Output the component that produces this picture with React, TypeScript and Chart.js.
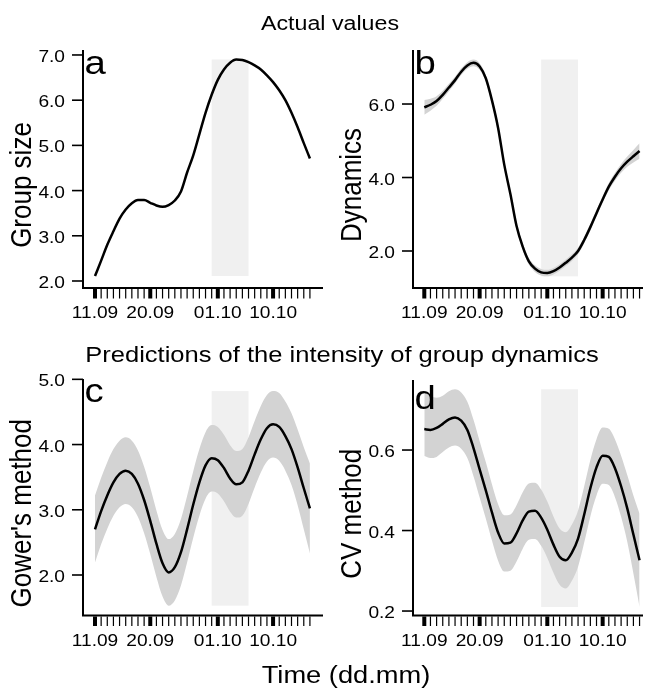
import React, { useEffect, useRef } from "react";
import { Chart, registerables } from "chart.js";

Chart.register(...registerables);

const W = 648;
const H = 688;
const FONT = '"Liberation Sans", Arial, Helvetica, sans-serif';
const SX = 1.16;

// ---------- data ----------
const days = [0, 1, 2, 3, 4, 5, 6, 7, 8, 9, 10, 11, 12, 13, 14, 15, 16, 17, 18, 19, 20, 21, 22, 23, 24, 25, 26, 27, 28, 29, 30, 31, 32, 33, 34, 35];
const dateTickDays = [0, 9, 20, 29];
const dateTickLabels = ["11.09", "20.09", "01.10", "10.10"];
const shadeStartDay = 19;
const shadeEndDay = 25;

const groupSizeFit = [2.11, 2.45, 2.80, 3.10, 3.38, 3.58, 3.72, 3.79, 3.79, 3.73, 3.67, 3.64, 3.68, 3.78, 3.98, 4.40, 4.78, 5.25, 5.72, 6.12, 6.45, 6.68, 6.83, 6.90, 6.89, 6.84, 6.77, 6.68, 6.55, 6.40, 6.22, 6.00, 5.72, 5.40, 5.05, 4.71];

const dynamicsFit = [5.91, 5.98, 6.08, 6.25, 6.45, 6.65, 6.88, 7.05, 7.12, 7.02, 6.70, 6.10, 5.35, 4.35, 3.55, 2.68, 2.12, 1.72, 1.52, 1.42, 1.40, 1.45, 1.55, 1.68, 1.82, 2.00, 2.30, 2.65, 3.03, 3.40, 3.75, 4.02, 4.25, 4.43, 4.58, 4.72];
const dynamicsUpper = [6.11, 6.14, 6.21, 6.36, 6.55, 6.74, 6.97, 7.14, 7.21, 7.11, 6.79, 6.19, 5.44, 4.44, 3.64, 2.77, 2.21, 1.81, 1.61, 1.51, 1.49, 1.54, 1.64, 1.77, 1.91, 2.09, 2.39, 2.74, 3.12, 3.49, 3.85, 4.13, 4.37, 4.57, 4.75, 4.93];
const dynamicsLower = [5.71, 5.82, 5.95, 6.14, 6.35, 6.56, 6.79, 6.96, 7.03, 6.93, 6.61, 6.01, 5.26, 4.26, 3.46, 2.59, 2.03, 1.63, 1.43, 1.33, 1.31, 1.36, 1.46, 1.59, 1.73, 1.91, 2.21, 2.56, 2.94, 3.31, 3.65, 3.91, 4.13, 4.29, 4.41, 4.51];

const gowerFit = [2.70, 2.98, 3.22, 3.42, 3.55, 3.60, 3.55, 3.40, 3.15, 2.83, 2.48, 2.18, 2.04, 2.12, 2.35, 2.70, 3.08, 3.42, 3.68, 3.79, 3.76, 3.64, 3.48, 3.39, 3.42, 3.60, 3.85, 4.08, 4.25, 4.31, 4.27, 4.13, 3.93, 3.65, 3.33, 3.02];
const gowerUpper = [3.22, 3.49, 3.73, 3.93, 4.06, 4.11, 4.06, 3.91, 3.66, 3.34, 2.99, 2.69, 2.55, 2.63, 2.86, 3.21, 3.59, 3.93, 4.19, 4.30, 4.27, 4.15, 3.99, 3.90, 3.93, 4.11, 4.36, 4.59, 4.76, 4.82, 4.79, 4.66, 4.48, 4.23, 3.96, 3.71];
const gowerLower = [2.19, 2.47, 2.71, 2.91, 3.04, 3.09, 3.04, 2.89, 2.64, 2.32, 1.97, 1.67, 1.53, 1.61, 1.84, 2.19, 2.57, 2.91, 3.17, 3.28, 3.25, 3.13, 2.97, 2.88, 2.91, 3.09, 3.34, 3.57, 3.74, 3.80, 3.75, 3.60, 3.38, 3.07, 2.70, 2.33];

const cvFit = [0.652, 0.650, 0.655, 0.665, 0.676, 0.681, 0.673, 0.650, 0.605, 0.552, 0.500, 0.445, 0.395, 0.368, 0.370, 0.393, 0.425, 0.447, 0.449, 0.432, 0.402, 0.365, 0.335, 0.326, 0.345, 0.380, 0.440, 0.505, 0.557, 0.586, 0.583, 0.555, 0.510, 0.455, 0.390, 0.326];
const cvUpper = [0.745, 0.735, 0.730, 0.735, 0.746, 0.751, 0.743, 0.720, 0.675, 0.622, 0.570, 0.515, 0.465, 0.438, 0.440, 0.463, 0.495, 0.517, 0.519, 0.502, 0.472, 0.435, 0.405, 0.396, 0.415, 0.450, 0.510, 0.575, 0.627, 0.656, 0.653, 0.627, 0.586, 0.538, 0.487, 0.442];
const cvLower = [0.585, 0.580, 0.583, 0.595, 0.606, 0.611, 0.603, 0.580, 0.535, 0.482, 0.430, 0.375, 0.325, 0.298, 0.300, 0.323, 0.355, 0.377, 0.379, 0.362, 0.332, 0.295, 0.265, 0.256, 0.275, 0.310, 0.370, 0.435, 0.487, 0.516, 0.513, 0.483, 0.434, 0.372, 0.293, 0.210];

const groupSizeTicks = [2, 3, 4, 5, 6, 7];
const dynamicsTicks = [2, 4, 6];
const gowerTicks = [2, 3, 4, 5];
const cvTicks = [0.2, 0.4, 0.6];

// ---------- layout / style ----------
type Txt = { text: string; x: number; y: number; size: number };
type Panel = {
  letter: string;
  yTitle: string;
  fit: number[];
  upper?: number[];
  lower?: number[];
  yTicks: number[];
  yMin: number;
  yMax: number;
  xMin: number;
  xMax: number;
  area: { left: number; top: number; right: number; bottom: number };
  letterDy: number;
  texts: Txt[];
};

const panels: Panel[] = [
  {
    letter: "a", yTitle: "Group size", fit: groupSizeFit, yTicks: groupSizeTicks,
    yMin: 1.845, yMax: 7.11, xMin: -1.954, xMax: 37.13,
    area: { left: 83, top: 50, right: 323, bottom: 288 }, letterDy: 24,
    texts: [{ text: "Actual values", x: 330, y: 30, size: 20 }],
  },
  {
    letter: "b", yTitle: "Dynamics", fit: dynamicsFit, upper: dynamicsUpper, lower: dynamicsLower, yTicks: dynamicsTicks,
    yMin: 0.993, yMax: 7.47, xMin: -1.837, xMax: 35.56,
    area: { left: 413, top: 50, right: 643, bottom: 288 }, letterDy: 23.5,
    texts: [],
  },
  {
    letter: "c", yTitle: "Gower's method", fit: gowerFit, upper: gowerUpper, lower: gowerLower, yTicks: gowerTicks,
    yMin: 1.379, yMax: 5.005, xMin: -1.954, xMax: 37.13,
    area: { left: 83, top: 379, right: 323, bottom: 615.5 }, letterDy: 23,
    texts: [
      { text: "Predictions of the intensity of group dynamics", x: 342, y: 362, size: 22 },
      { text: "Time (dd.mm)", x: 346, y: 683, size: 23.5 },
    ],
  },
  {
    letter: "d", yTitle: "CV method", fit: cvFit, upper: cvUpper, lower: cvLower, yTicks: cvTicks,
    yMin: 0.1889, yMax: 0.774, xMin: -1.837, xMax: 35.56,
    area: { left: 413, top: 380, right: 643, bottom: 615.5 }, letterDy: 29,
    texts: [],
  },
];

function stretchedText(ctx: CanvasRenderingContext2D, text: string, x: number, y: number, size: number, align: CanvasTextAlign) {
  ctx.save();
  ctx.translate(x, y);
  ctx.scale(SX, 1);
  ctx.font = `${size}px ${FONT}`;
  ctx.textAlign = align;
  ctx.textBaseline = "alphabetic";
  ctx.fillText(text, 0, 0);
  ctx.restore();
}

function makeDecor(p: Panel) {
  return {
    id: "decor_" + p.letter,
    beforeDatasetsDraw(chart: any) {
      const { ctx, scales } = chart;
      const xs = scales.x;
      const ys = scales.y;
      const lo = Math.min(...(p.lower ?? p.fit));
      const hi = Math.max(...(p.upper ?? p.fit));
      const x0 = xs.getPixelForValue(shadeStartDay);
      const x1 = xs.getPixelForValue(shadeEndDay);
      const y0 = ys.getPixelForValue(hi);
      const y1 = ys.getPixelForValue(lo);
      ctx.save();
      ctx.fillStyle = "#f0f0f0";
      ctx.fillRect(x0, y0, x1 - x0, y1 - y0);
      ctx.restore();
    },
    afterDraw(chart: any) {
      const { ctx, scales, chartArea } = chart;
      const xs = scales.x;
      const ys = scales.y;
      const { left, top, right, bottom } = chartArea;
      ctx.save();
      ctx.fillStyle = "#000";
      ctx.strokeStyle = "#000";
      // L-shaped frame
      ctx.lineWidth = 2;
      ctx.beginPath();
      ctx.moveTo(left, top);
      ctx.lineTo(left, bottom);
      ctx.lineTo(right, bottom);
      ctx.stroke();
      // y ticks + labels
      ctx.lineWidth = 1.6;
      for (const t of p.yTicks) {
        const py = ys.getPixelForValue(t);
        ctx.beginPath();
        ctx.moveTo(left - 11, py);
        ctx.lineTo(left, py);
        ctx.stroke();
        stretchedText(ctx, t.toFixed(1), left - 18, py + 7, 16.5, "right");
      }
      // x rug ticks
      for (const d of days) {
        const px = xs.getPixelForValue(d);
        if (dateTickDays.includes(d)) {
          ctx.fillRect(px - 2, bottom + 1, 4, 9.5);
        } else {
          ctx.fillRect(px - 0.6, bottom + 1, 1.2, 9.5);
        }
      }
      // x labels
      dateTickDays.forEach((d, i) => {
        const px = xs.getPixelForValue(d);
        stretchedText(ctx, dateTickLabels[i], px, bottom + 30, 16.5, "center");
      });
      // y title
      ctx.save();
      ctx.translate(left - 52.5, (top + bottom) / 2 + 16);
      ctx.rotate(-Math.PI / 2);
      ctx.scale(1, SX);
      ctx.font = `26px ${FONT}`;
      ctx.textAlign = "center";
      ctx.textBaseline = "alphabetic";
      ctx.fillText(p.yTitle, 0, 0);
      ctx.restore();
      // panel letter
      stretchedText(ctx, p.letter, left + 1.5, top + p.letterDy, 33, "left");
      // titles
      for (const t of p.texts) {
        stretchedText(ctx, t.text, t.x, t.y, t.size, "center");
      }
      ctx.restore();
    },
  };
}

function PanelChart({ panel }: { panel: Panel }) {
  const ref = useRef<HTMLCanvasElement>(null);
  useEffect(() => {
    if (!ref.current) return;
    const pts = (arr: number[]) => days.map((d, i) => ({ x: d, y: arr[i] }));
    const datasets: any[] = [
      {
        data: pts(panel.fit),
        borderColor: "#000",
        borderWidth: 2.5,
        pointRadius: 0,
        fill: false,
        cubicInterpolationMode: "monotone",
        order: 0,
      },
    ];
    if (panel.upper && panel.lower) {
      datasets.push(
        {
          data: pts(panel.upper),
          borderColor: "rgba(0,0,0,0)",
          borderWidth: 1,
          pointRadius: 0,
          backgroundColor: "#d3d3d3",
          fill: "+1",
          cubicInterpolationMode: "monotone",
          order: 1,
        },
        {
          data: pts(panel.lower),
          borderColor: "rgba(0,0,0,0)",
          borderWidth: 1,
          pointRadius: 0,
          fill: false,
          cubicInterpolationMode: "monotone",
          order: 2,
        }
      );
    }
    const a = panel.area;
    const chart = new Chart(ref.current, {
      type: "line",
      data: { datasets },
      options: {
        responsive: false,
        animation: false,
        devicePixelRatio: 1,
        layout: { padding: { left: a.left, top: a.top, right: W - a.right, bottom: H - a.bottom } },
        plugins: { legend: { display: false }, tooltip: { enabled: false } },
        events: [],
        scales: {
          x: { type: "linear", min: panel.xMin, max: panel.xMax, display: false },
          y: { type: "linear", min: panel.yMin, max: panel.yMax, display: false },
        },
      },
      plugins: [makeDecor(panel)],
    } as any);
    return () => chart.destroy();
  }, [panel]);
  return (
    <canvas
      ref={ref}
      width={W}
      height={H}
      style={{ position: "absolute", left: 0, top: 0, width: W, height: H }}
    />
  );
}

export default function App() {
  return (
    <div style={{ position: "absolute", left: 0, top: 0, width: W, height: H, background: "#fff", overflow: "hidden" }}>
      {panels.map((p) => (
        <PanelChart key={p.letter} panel={p} />
      ))}
    </div>
  );
}
